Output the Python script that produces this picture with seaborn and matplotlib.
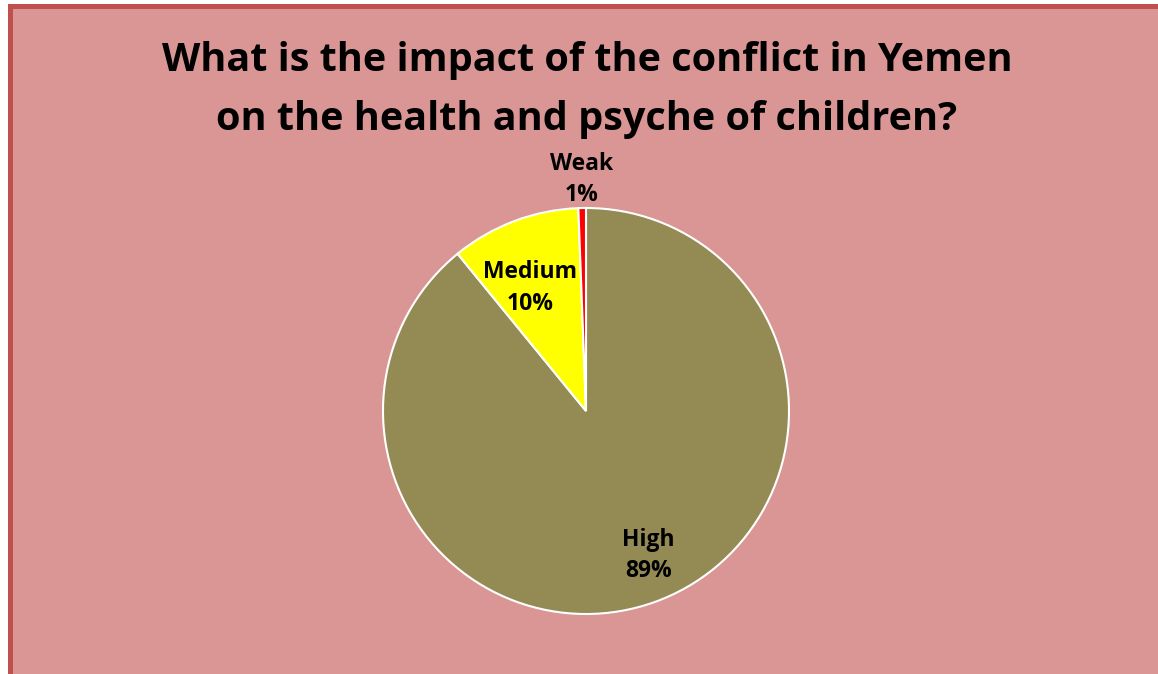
import numpy as np
import matplotlib
matplotlib.use("Agg")
import matplotlib.pyplot as plt
import seaborn as sns
from matplotlib.patches import Rectangle

# data (percent of answers)
labels = ["High", "Medium", "Weak"]
values = [89.1, 10.3, 0.6]
colors = ["#948A54", "#FFFF00", "#FF0000"]
title_lines = ["What is the impact of the conflict in Yemen",
               "on the health and psyche of children?"]

sns.set_style("white")
plt.rcParams['font.family'] = ['Open Sans', 'DejaVu Sans']

W, H = 1158, 674
fig = plt.figure(figsize=(W / 100, H / 100), dpi=100)
fig.patch.set_facecolor("white")

# chart area with dark red border (only top/left visible)
fig.patches.append(Rectangle((9.5 / W, -0.1), 1.2, 1.1 - 6.5 / H,
                             transform=fig.transFigure, facecolor="#D99694",
                             edgecolor="#C0504D", linewidth=3.6, zorder=-5))

# title
fig.text(587 / W, 1 - 71 / H, title_lines[0], ha="center", va="baseline",
         fontsize=28.5, fontweight="bold", color="black")
fig.text(587 / W, 1 - 130 / H, title_lines[1], ha="center", va="baseline",
         fontsize=28.5, fontweight="bold", color="black")

# pie
cx, cy, r = 586, 411, 203
ax = fig.add_axes([(cx - r) / W, (H - cy - r) / H, 2 * r / W, 2 * r / H])
ax.set_zorder(2)
wedges, _ = ax.pie(values, colors=colors, startangle=90, counterclock=False,
                   wedgeprops=dict(edgecolor="white", linewidth=1.5))
ax.set_xlim(-1, 1)
ax.set_ylim(-1, 1)
ax.set_aspect("equal")
ax.axis("off")

# data labels (name + percent): radial distance and small angle nudge per label
dists = [0.775, 0.665, 1.14]
nudges = [3.7, 3.8, 0.0]
total = sum(values)
for w, lab, v, d, n in zip(wedges, labels, values, dists, nudges):
    ang = np.deg2rad((w.theta1 + w.theta2) / 2 + n)
    ax.text(d * np.cos(ang), d * np.sin(ang), f"{lab}\n{v / total:.0%}",
            ha="center", va="center", fontsize=16.5, fontweight="bold",
            color="black", linespacing=1.42, clip_on=False)

fig.savefig("out.png", dpi=100, facecolor=fig.get_facecolor())
